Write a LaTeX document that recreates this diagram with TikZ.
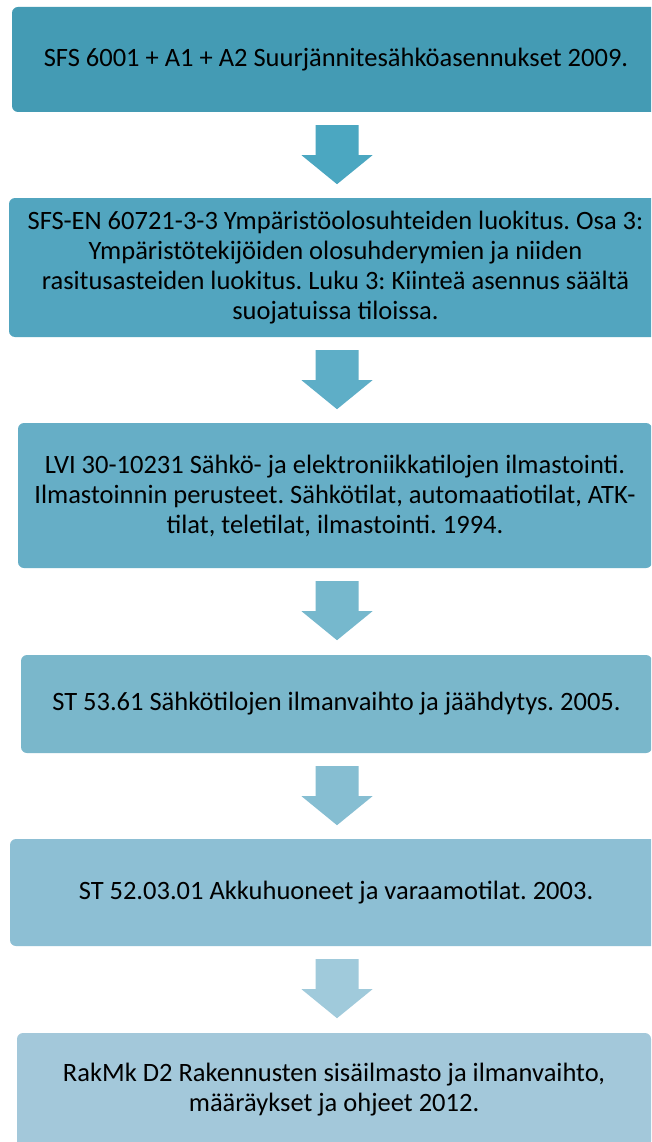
\documentclass[tikz,border=0pt]{standalone}
\usepackage{fontspec}
\setmainfont{Carlito}
\usetikzlibrary{calc}
\frenchspacing

% step colours, darkest at the top
\definecolor{box1}{HTML}{449BB4}
\definecolor{box2}{HTML}{52A5BF}
\definecolor{box3}{HTML}{66AEC6}
\definecolor{box4}{HTML}{7AB7CB}
\definecolor{box5}{HTML}{8DBFD4}
\definecolor{box6}{HTML}{A3C8DA}
\definecolor{arr1}{HTML}{4BA7C1}
\definecolor{arr2}{HTML}{5EAEC7}
\definecolor{arr3}{HTML}{76B8CD}
\definecolor{arr4}{HTML}{86BED2}
\definecolor{arr5}{HTML}{A0CADB}

\tikzset{
  stepbox/.style={rectangle, rounded corners=6pt, draw=none, inner sep=0pt,
    align=center, text=black,
    font=\fontsize{26.5}{30}\selectfont},
}

\begin{document}
\begin{tikzpicture}[x=1pt, y=-1pt]
  \clip (0,0) rectangle (651,1142);
  \fill[white] (0,0) rectangle (651,1142);
  \coordinate (axis) at (337,0);

  % the six standards, one box each
  \node[stepbox, fill=box1, minimum width=648pt, minimum height=105pt] (b1) at (336,59.5)
    {SFS 6001 + A1 + A2 Suurjännitesähköasennukset 2009.};
  \node[stepbox, fill=box2, minimum width=653pt, minimum height=139pt] (b2) at (335.5,267.5)
    {SFS-EN 60721-3-3 Ympäristöolosuhteiden luokitus. Osa 3:\\
     Ympäristötekijöiden olosuhderymien ja niiden\\
     rasitusasteiden luokitus. Luku 3: Kiinteä asennus säältä\\
     suojatuissa tiloissa.};
  \node[stepbox, fill=box3, minimum width=634pt, minimum height=145pt] (b3) at (335,495.5)
    {LVI 30-10231 Sähkö- ja elektroniikkatilojen ilmastointi.\\
     Ilmastoinnin perusteet. Sähkötilat, automaatiotilat, ATK-\\
     tilat, teletilat, ilmastointi. 1994.};
  \node[stepbox, fill=box4, minimum width=631pt, minimum height=98pt] (b4) at (336.5,704)
    {ST 53.61 Sähkötilojen ilmanvaihto ja jäähdytys. 2005.};
  \node[stepbox, fill=box5, minimum width=652pt, minimum height=107pt] (b5) at (336,892.5)
    {ST 52.03.01 Akkuhuoneet ja varaamotilat. 2003.};
  \node[stepbox, fill=box6, minimum width=634pt, minimum height=114pt] (b6) at (334,1090)
    {RakMk D2 Rakennusten sisäilmasto ja ilmanvaihto,\\
     määräykset ja ohjeet 2012.};

  % block arrows between consecutive boxes
  \foreach \a/\b in {1/2,2/3,3/4,4/5,5/6}{
    \path (b\a.south -| axis) ++(0,13) coordinate (t\a);
    \fill[arr\a] (t\a) ++(-21.5,0) -- ++(43,0) -- ++(0,30) -- ++(14,0)
      -- ++(-35.5,29) -- ++(-35.5,-29) -- ++(14,0) -- cycle;
  }
\end{tikzpicture}
\end{document}
